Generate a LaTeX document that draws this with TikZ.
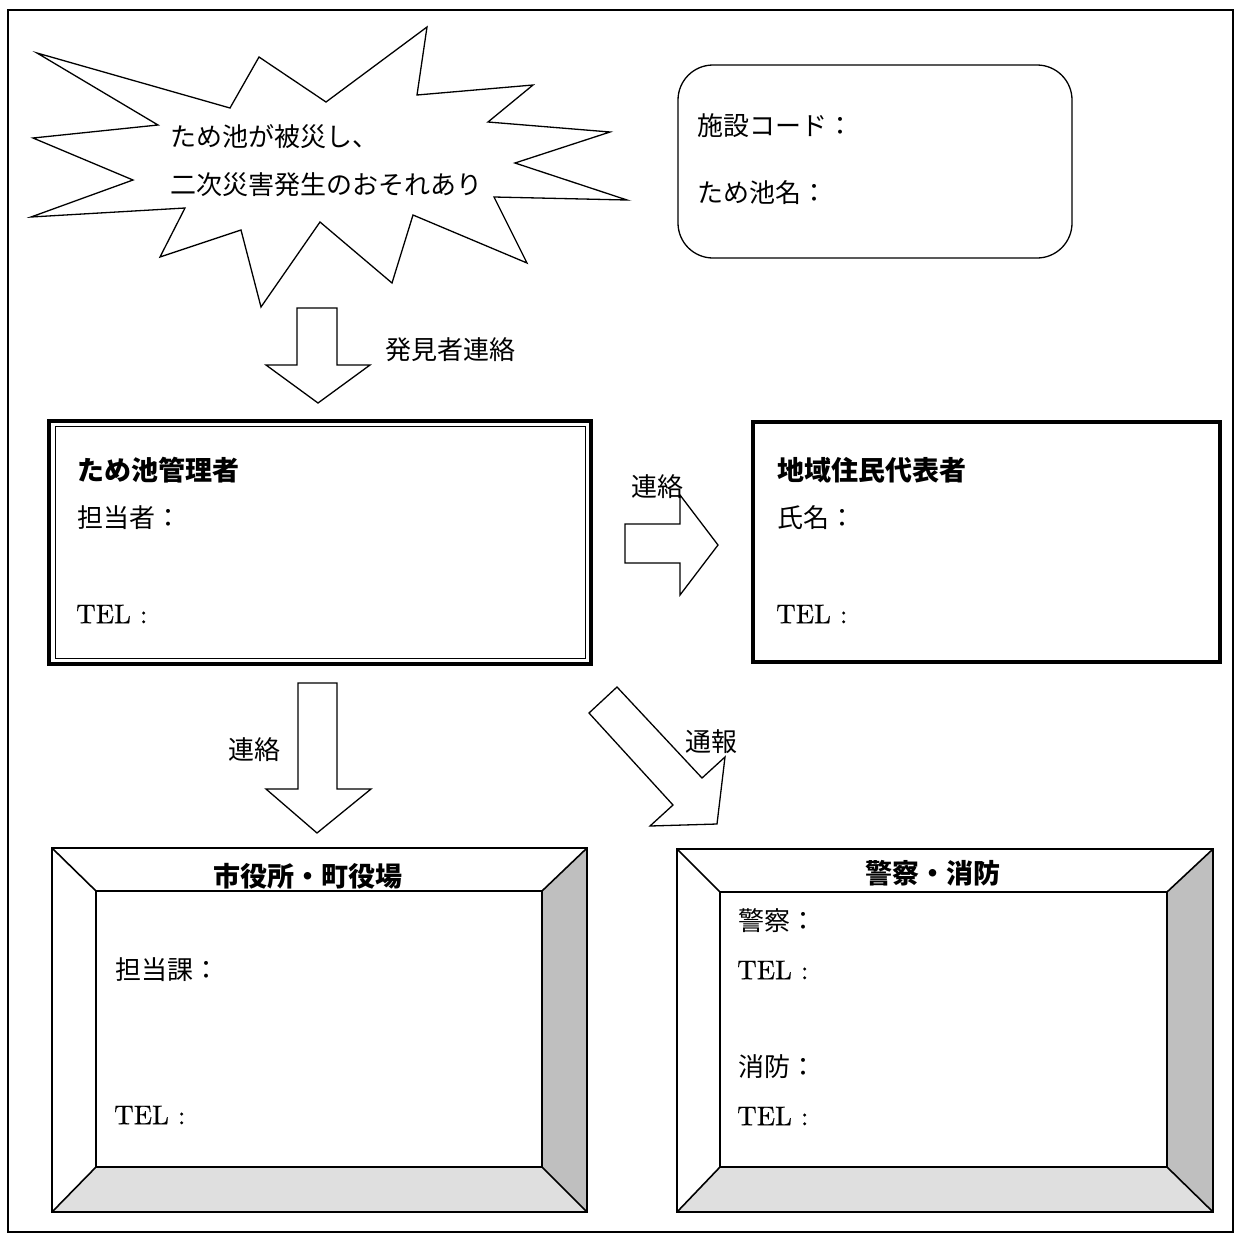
\documentclass[tikz,border=0pt]{standalone}
\usepackage{fontspec}
\newfontfamily\jp{Noto Sans CJK JP}
\newfontfamily\telfont{lmroman10-regular}[Extension=.otf, FakeBold=0.6]
\tikzset{
  lbl/.style={anchor=west, inner sep=0pt, font=\jp\fontsize{26}{30}\selectfont},
  head/.style={inner sep=0pt, font=\jp\bfseries\fontsize{27}{32}\selectfont},
  tel/.style={anchor=west, inner sep=0pt, font=\telfont\fontsize{27}{32}\selectfont},
  blockarrow/.style={draw, line width=1.3pt, fill=white, line join=miter},
  bevel/.style={draw, line width=1.6pt, line join=miter},
}
\begin{document}
\begin{tikzpicture}[x=1pt,y=-1pt]
\useasboundingbox (0,0) rectangle (1241,1240);
% outer frame
\draw[line width=2.5pt] (8,10) rectangle (1233,1232);

% burst
\draw[line width=1.3pt, line join=miter, fill=white]
  (37,53) -- (230,108) -- (259,57) -- (326,102) -- (427,27) -- (417,95)
  -- (533,85) -- (488,122) -- (610,132) -- (515,163) -- (627,200)
  -- (494,197) -- (527,263) -- (413,215) -- (392,283) -- (320,222)
  -- (261,307) -- (241,230) -- (160,257) -- (185,208) -- (31,217)
  -- (133,180) -- (33,138) -- (158,125) -- cycle;
\node[lbl] (b1) at (170,137) {ため池が被災し、};
\node[lbl] (b2) at (170,185) {二次災害発生のおそれあり};

% facility box
\draw[line width=1.3pt, rounded corners=35pt] (678,65) rectangle (1072,258);
\node[lbl] (f1) at (697,126) {施設コード：};
\node[lbl] (f2) at (697,193) {ため池名：};

% arrow 1 (down)
\draw[blockarrow] (297,308) -- (337,308) -- (337,365) -- (370,365) -- (318,403)
  -- (266,365) -- (297,365) -- cycle;
\node[lbl] (a1) at (385,350) {発見者連絡};

% manager box
\draw[line width=3.5pt] (49,421) rectangle (591,664);
\draw[line width=1pt] (55,426) rectangle (585,658);
\node[head, anchor=west] (m0) at (77,470) {ため池管理者};
\node[lbl] (m1) at (77,518) {担当者：};
\node[tel] (m2) at (76,614) {TEL :};

% residents box
\draw[line width=4.5pt] (753,422) rectangle (1220,662);
\node[head, anchor=west] (r0) at (777,470) {地域住民代表者};
\node[lbl] (r1) at (777,518) {氏名：};
\node[tel] (r2) at (776,614) {TEL :};

% arrow right
\draw[blockarrow] (625,524) -- (680,524) -- (680,495) -- (718,545) -- (680,595)
  -- (680,563) -- (625,563) -- cycle;
\node[lbl] (a2) at (631,487) {連絡};

% arrow down 2
\draw[blockarrow] (298,683) -- (337,683) -- (337,789) -- (371,789) -- (317,833)
  -- (266,789) -- (298,789) -- cycle;
\node[lbl] (a3) at (228,750) {連絡};

% diagonal arrow
\draw[blockarrow] (589,713) -- (617,687) -- (702,778) -- (725,757) -- (717,824)
  -- (650,826) -- (673,805) -- cycle;
\node[lbl] (a4) at (685,742) {通報};

% city office bevel frame
\fill[gray!50] (587,848) -- (587,1212) -- (542,1167) -- (542,891) -- cycle;
\fill[gray!25] (52,1212) -- (587,1212) -- (542,1167) -- (96,1167) -- cycle;
\draw[bevel] (52,848) rectangle (587,1212);
\draw[bevel] (96,891) rectangle (542,1167);
\draw[bevel] (52,848) -- (96,891) (587,848) -- (542,891)
  (587,1212) -- (542,1167) (52,1212) -- (96,1167);
\node[head] (c0) at (308,876) {市役所・町役場};
\node[lbl] (c1) at (115,970) {担当課：};
\node[tel] (c2) at (114,1115) {TEL :};

% police / fire bevel frame
\fill[gray!50] (1213,849) -- (1213,1212) -- (1167,1167) -- (1167,892) -- cycle;
\fill[gray!25] (677,1212) -- (1213,1212) -- (1167,1167) -- (720,1167) -- cycle;
\draw[bevel] (677,849) rectangle (1213,1212);
\draw[bevel] (720,892) rectangle (1167,1167);
\draw[bevel] (677,849) -- (720,892) (1213,849) -- (1167,892)
  (1213,1212) -- (1167,1167) (677,1212) -- (720,1167);
\node[head] (p0) at (933,873) {警察・消防};
\node[lbl] (p1) at (738,921) {警察：};
\node[tel] (p2) at (737,970) {TEL :};
\node[lbl] (p3) at (738,1067) {消防：};
\node[tel] (p4) at (737,1116) {TEL :};
\end{tikzpicture}
\end{document}
